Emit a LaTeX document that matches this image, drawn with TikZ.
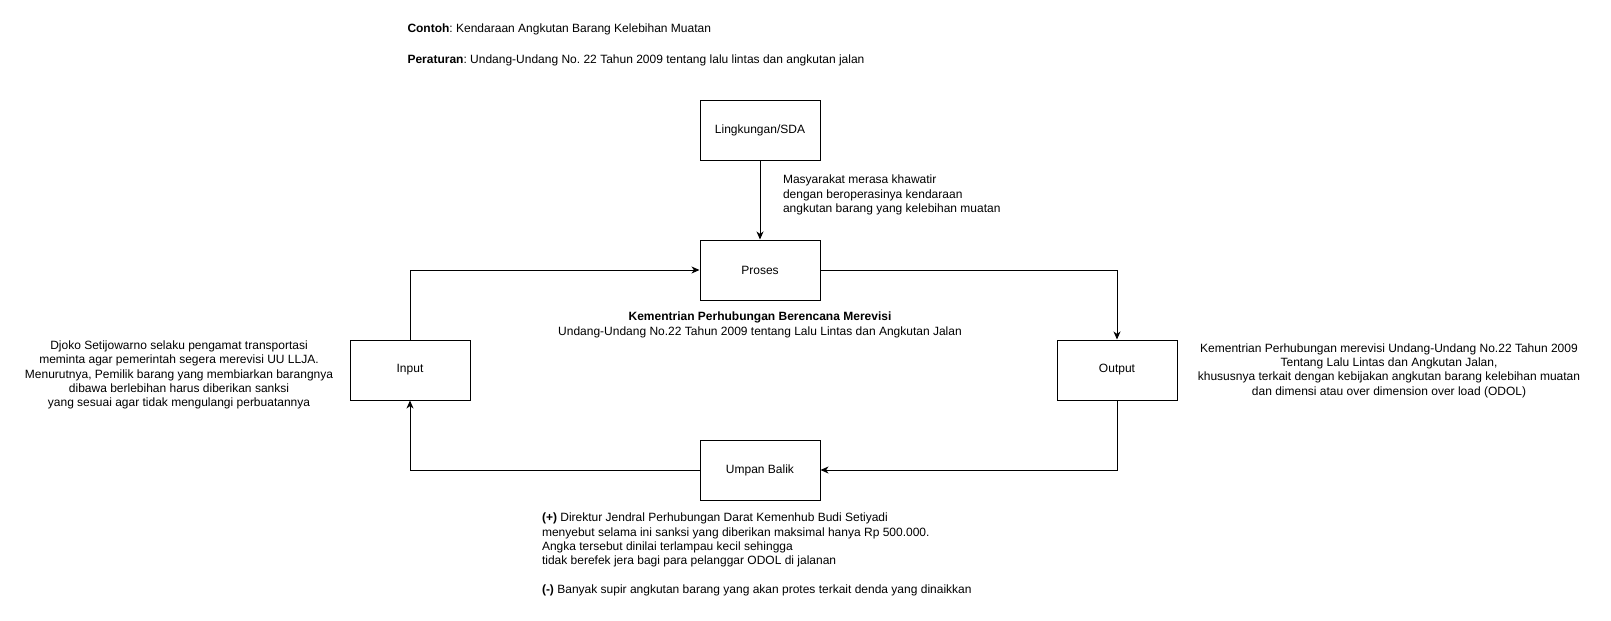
\documentclass[tikz,border=0pt]{standalone}
\usepackage{fontspec}
\setmainfont{Liberation Sans}
\usetikzlibrary{arrows.meta}
\newcommand\dfont{\fontsize{9}{10.75}\selectfont}
\frenchspacing
\begin{document}
\frenchspacing
\begin{tikzpicture}[x=0.75pt,y=-0.75pt,line width=0.75pt,
  box/.style={draw,minimum width=90pt,minimum height=45pt,inner sep=0pt,font=\dfont},
  txt/.style={inner sep=0pt,font=\dfont},
  arr/.style={-{Stealth[length=6pt,width=5.2pt,inset=1.8pt]}}]
\useasboundingbox[fill=white] (0,0) rectangle (1611,621);
% boxes
\node[box] (env) at (760,130) {Lingkungan/SDA};
\node[box] (proc) at (760,270) {Proses};
\node[box] (in) at (410,370) {Input};
\node[box] (out) at (1117,370) {Output};
\node[box] (fb) at (760,470) {Umpan Balik};
% connectors
\draw[arr] (env) -- (proc);
\draw[arr] (in.north) |- (proc.west);
\draw[arr] (proc.east) -| (out.north);
\draw[arr] (out.south) |- (fb.east);
\draw[arr] (fb.west) -| (in.south);
% texts
\node[txt,anchor=west] (t1) at (407,29) {\textbf{Contoh}: Kendaraan Angkutan Barang Kelebihan Muatan};
\node[txt,anchor=west] (t2) at (407,60) {\textbf{Peraturan}: Undang-Undang No. 22 Tahun 2009 tentang lalu lintas dan angkutan jalan};
\node[txt,anchor=west,align=left] (t3) at (782.5,195) {Masyarakat merasa khawatir\\dengan beroperasinya kendaraan\\angkutan barang yang kelebihan muatan};
\node[txt,align=center] (t4) at (760,325) {\textbf{Kementrian Perhubungan Berencana Merevisi}\\Undang-Undang No.22 Tahun 2009 tentang Lalu Lintas dan Angkutan Jalan};
\node[txt,align=center] (t5) at (179,375) {Djoko Setijowarno selaku pengamat transportasi\\meminta agar pemerintah segera merevisi UU LLJA.\\Menurutnya, Pemilik barang yang membiarkan barangnya\\dibawa berlebihan harus diberikan sanksi\\yang sesuai agar tidak mengulangi perbuatannya};
\node[txt,align=center] (t6) at (1389,370.5) {Kementrian Perhubungan merevisi Undang-Undang No.22 Tahun 2009\\Tentang Lalu Lintas dan Angkutan Jalan,\\khususnya terkait dengan kebijakan angkutan barang kelebihan muatan\\dan dimensi atau over dimension over load (ODOL)};
\node[txt,anchor=west,align=left] (t7) at (541.5,554.7) {\textbf{(+)} Direktur Jendral Perhubungan Darat Kemenhub Budi Setiyadi\\menyebut selama ini sanksi yang diberikan maksimal hanya Rp 500.000.\\Angka tersebut dinilai terlampau kecil sehingga\\tidak berefek jera bagi para pelanggar ODOL di jalanan\\[10.75pt]\textbf{(-)} Banyak supir angkutan barang yang akan protes terkait denda yang dinaikkan};
\end{tikzpicture}
\end{document}
